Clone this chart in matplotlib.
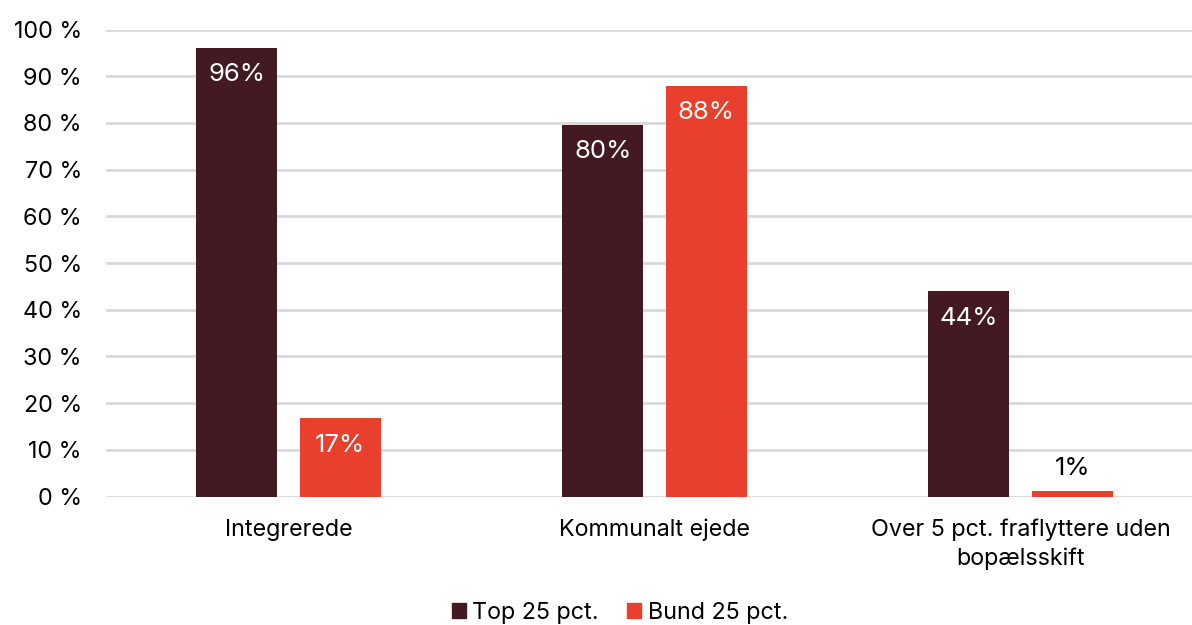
import matplotlib
matplotlib.use('Agg')
import matplotlib.pyplot as plt
from matplotlib.patches import Patch

plt.rcParams['font.family'] = ['Inter', 'DejaVu Sans']

categories = ['Integrerede', 'Kommunalt ejede', 'Over 5 pct. fraflyttere uden\nbopælsskift']
series_names = ['Top 25 pct.', 'Bund 25 pct.']
top_vals = [96.1, 79.6, 44.0]
bund_vals = [16.8, 88.0, 1.2]
top_labels = ['96%', '80%', '44%']
bund_labels = ['17%', '88%', '1%']
yticks = [0, 10, 20, 30, 40, 50, 60, 70, 80, 90, 100]

DARK = '#431a22'
RED = '#e8402d'

W, H = 1192, 625
fig = plt.figure(figsize=(W / 100, H / 100), dpi=100)
ax = fig.add_axes([105.5 / W, (H - 496.5) / H, 1098 / W, 467 / H])

bw = 0.221
off = 0.1415
xs = list(range(len(categories)))
b1 = ax.bar([x - off for x in xs], top_vals, bw, color=DARK, zorder=3)
b2 = ax.bar([x + off for x in xs], bund_vals, bw, color=RED, zorder=3)

fs = 16.8
vfs = 18.5
for rect, lab in zip(b1, top_labels):
    ax.annotate(lab, (rect.get_x() + rect.get_width() / 2, rect.get_height()),
                xytext=(0, -27), textcoords='offset pixels', ha='center', va='center',
                color='white', fontsize=vfs, zorder=4)
for rect, lab in zip(b2, bund_labels):
    h = rect.get_height()
    if h > 5:
        ax.annotate(lab, (rect.get_x() + rect.get_width() / 2, h),
                    xytext=(0, -27), textcoords='offset pixels', ha='center', va='center',
                    color='white', fontsize=vfs, zorder=4)
    else:
        ax.annotate(lab, (rect.get_x() + rect.get_width() / 2, h),
                    xytext=(0, 22), textcoords='offset pixels', ha='center', va='center',
                    color='black', fontsize=vfs, zorder=4)

ax.set_xlim(-0.5, 2.5)
ax.set_ylim(0, 100)
ax.set_yticks(yticks)
ax.set_yticklabels(['{} %'.format(v) for v in yticks], fontsize=fs)
ax.set_xticks(xs)
ax.set_xticklabels(categories, fontsize=fs, linespacing=1.35)
ax.tick_params(axis='both', length=0)
ax.tick_params(axis='y', pad=17)
ax.tick_params(axis='x', pad=16)
ax.yaxis.grid(True, color='#d9d9d9', linewidth=2, zorder=0)
for s in ax.spines.values():
    s.set_visible(False)

handles = [Patch(color=DARK), Patch(color=RED)]
fig.legend(handles, series_names, loc='center', bbox_to_anchor=(620 / W, 1 - 613 / H),
           ncol=2, frameon=False, fontsize=fs, handlelength=0.6, handleheight=0.6,
           handletextpad=0.3, columnspacing=1.2)

fig.savefig('out.png', dpi=100)
